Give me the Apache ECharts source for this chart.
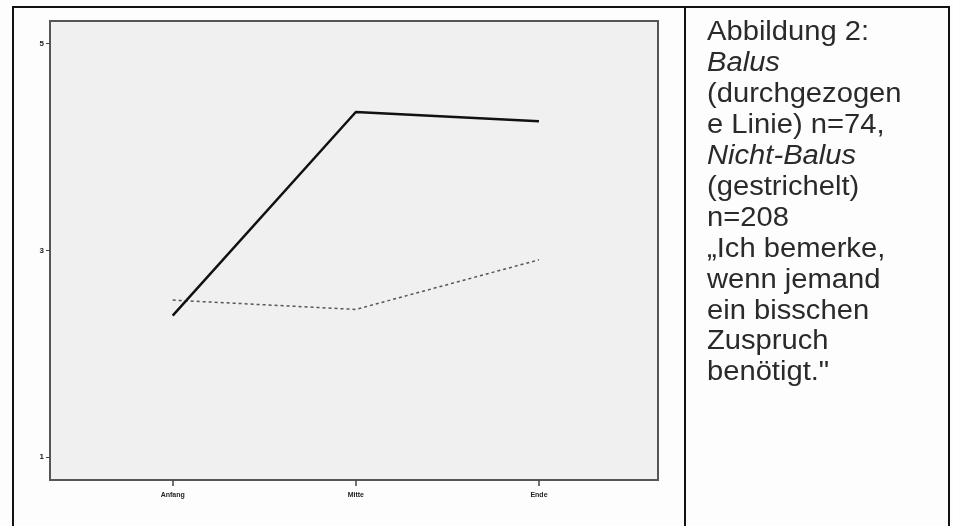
<!DOCTYPE html>
<html>
<head>
<meta charset="utf-8">
<script src="https://cdn.jsdelivr.net/npm/echarts@6/dist/echarts.min.js"></script>
<style>
html,body{margin:0;padding:0;background:#fff;}
#c{width:953px;height:526px;}
</style>
</head>
<body>
<div id="c"></div>
<script>
// Data
const categories = ['Anfang', 'Mitte', 'Ende'];
const balus = [2.37, 4.34, 4.25];        // solid line, n=74
const nichtBalus = [2.52, 2.43, 2.91];   // dashed line, n=208
const yTicks = [1, 3, 5];
const captionLines = [
  {t: 'Abbildung 2:', s: 'normal'},
  {t: 'Balus', s: 'italic'},
  {t: '(durchgezogen', s: 'normal'},
  {t: 'e Linie) n=74,', s: 'normal'},
  {t: 'Nicht-Balus', s: 'italic'},
  {t: '(gestrichelt)', s: 'normal'},
  {t: 'n=208', s: 'normal'},
  {t: '\u201EIch bemerke,', s: 'normal'},
  {t: 'wenn jemand', s: 'normal'},
  {t: 'ein bisschen', s: 'normal'},
  {t: 'Zuspruch', s: 'normal'},
  {t: 'benötigt."', s: 'normal'}
];

const chart = echarts.init(document.getElementById('c'), null, {renderer: 'canvas'});

const graphics = [
  {type: 'rect', shape: {x: 13, y: 7, width: 936, height: 530}, style: {fill: 'none', stroke: '#111', lineWidth: 2}, z: 10},
  {type: 'line', shape: {x1: 685, y1: 7, x2: 685, y2: 530}, style: {stroke: '#111', lineWidth: 2}, z: 10}
];
captionLines.forEach((l, i) => {
  graphics.push({
    type: 'text', x: 707, y: 33 + i * 30.9, scaleX: 1.08,
    style: {x: 0, y: 0, text: l.t, font: l.s + ' 27px "Liberation Sans", Arial, sans-serif', fill: '#2a2a2a', textVerticalAlign: 'middle', textAlign: 'left'},
    z: 10
  });
});

chart.setOption({
  animation: false,
  backgroundColor: '#fdfdfd',
  grid: {left: 50, right: 295, top: 21, bottom: 46, show: true, backgroundColor: '#f0f0f0', borderColor: '#555', borderWidth: 2},
  xAxis: {
    type: 'value', min: -0.67, max: 2.65,
    axisLine: {show: false, onZero: false},
    splitLine: {show: false},
    axisTick: {show: true, length: 6, lineStyle: {color: '#444', width: 1.5}, customValues: [0, 1, 2]},
    axisLabel: {customValues: [0, 1, 2], formatter: v => categories[Math.round(v)], fontSize: 7, fontWeight: 'bold', color: '#222', margin: 12}
  },
  yAxis: {
    type: 'value', min: 0.78, max: 5.22,
    axisLine: {show: false, onZero: false},
    splitLine: {show: false},
    axisTick: {show: true, length: 4, lineStyle: {color: '#444', width: 1}, customValues: yTicks},
    axisLabel: {customValues: yTicks, fontSize: 8, fontWeight: 'bold', color: '#222', margin: 6}
  },
  series: [
    {type: 'line', name: 'Balus', data: balus.map((v, i) => [i, v]), symbol: 'none', lineStyle: {color: '#111', width: 2.5}, z: 5},
    {type: 'line', name: 'Nicht-Balus', data: nichtBalus.map((v, i) => [i, v]), symbol: 'none', lineStyle: {color: '#555', width: 1.5, type: [3, 3]}, z: 4}
  ],
  graphic: graphics
});
</script>
</body>
</html>
